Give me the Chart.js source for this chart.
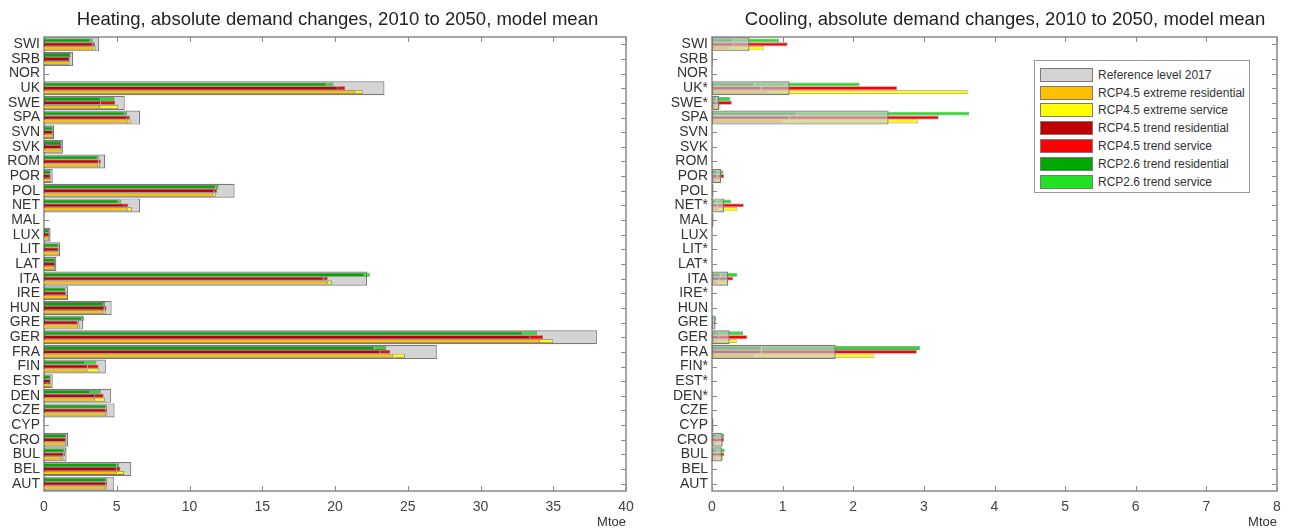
<!DOCTYPE html>
<html>
<head>
<meta charset="utf-8">
<script src="https://cdn.jsdelivr.net/npm/chart.js@4/dist/chart.umd.min.js"></script>
<style>
html, body { margin: 0; padding: 0; background: #fff; overflow: hidden; width: 1294px; height: 531px; }
#heat { position: absolute; left: 0; top: 0; }
#cool { position: absolute; left: 647px; top: 0; }
.title { position: absolute; top: 8px; height: 22px; line-height: 22px; text-align: center; white-space: nowrap;
  font: 18.5px "Liberation Sans", Arial, sans-serif; color: #222; }
#legend { position: absolute; left: 1034px; top: 60px; width: 216px; height: 133px; box-sizing: border-box;
  border: 1px solid #9a9a9a; background: #fff; padding: 5px 0 0 5px;
  font: 12px "Liberation Sans", Arial, sans-serif; color: #333; }
#legend .row { display: flex; align-items: center; height: 17.8px; white-space: nowrap; }
#legend .sw { width: 53px; height: 14px; box-sizing: border-box; border: 1px solid #7a7a7a; margin-right: 5px; }
</style>
</head>
<body>
<canvas id="heat" width="647" height="531"></canvas>
<canvas id="cool" width="647" height="531"></canvas>
<div class="title" style="left:44px;width:587px">Heating, absolute demand changes, 2010 to 2050, model mean</div>
<div class="title" style="left:712px;width:586px">Cooling, absolute demand changes, 2010 to 2050, model mean</div>
<div id="legend"></div>
<script>
const FONT = "'Liberation Sans', Arial, sans-serif";

let heatLabels = ['SWI','SRB','NOR','UK','SWE','SPA','SVN','SVK','ROM','POR','POL','NET','MAL','LUX','LIT','LAT',
  'ITA','IRE','HUN','GRE','GER','FRA','FIN','EST','DEN','CZE','CYP','CRO','BUL','BEL','AUT'];
let coolLabels = ['SWI','SRB','NOR','UK*','SWE*','SPA','SVN','SVK','ROM','POR','POL','NET*','MAL','LUX','LIT*','LAT*',
  'ITA','IRE*','HUN','GRE','GER','FRA','FIN*','EST*','DEN*','CZE','CYP','CRO','BUL','BEL','AUT'];

let seriesNames = ['Reference level 2017', 'RCP4.5 extreme residential', 'RCP4.5 extreme service',
  'RCP4.5 trend residential', 'RCP4.5 trend service', 'RCP2.6 trend residential', 'RCP2.6 trend service'];
let seriesColors = ['#d4d4d4', '#ffc000', '#ffff00', '#c00000', '#ff0000', '#00a800', '#22e022'];

// heating, Mtoe
let heatRef      = [3.8, 2.0, 0, 23.4, 5.55, 6.6, 0.7, 1.3, 4.2, 0.6, 13.1, 6.6, 0.02, 0.45, 1.1, 0.85,
  22.2, 1.65, 4.65, 2.7, 38.0, 27.0, 4.25, 0.6, 4.6, 4.85, 0.02, 1.65, 1.55, 6.0, 4.8];
let heatExtRes   = [3.4, 1.75, 0, 21.4, 3.85, 5.8, 0.6, 1.2, 3.7, 0.45, 11.6, 5.75, 0, 0.35, 1.0, 0.75,
  19.5, 1.6, 4.1, 2.35, 34.1, 24.0, 3.0, 0.45, 3.5, 4.25, 0, 1.5, 1.25, 5.0, 4.25];
let heatExtSer   = [0.15, 0.05, 0, 0.5, 1.25, 0.2, 0.05, 0.05, 0.15, 0.05, 0.2, 0.3, 0, 0.05, 0.05, 0.05,
  0.3, 0.05, 0.15, 0.1, 0.9, 0.8, 0.8, 0.05, 0.7, 0.1, 0, 0.05, 0.1, 0.5, 0.1];
let heatTrendRes = [3.35, 1.75, 0, 20.2, 3.9, 5.7, 0.6, 1.2, 3.75, 0.45, 11.7, 5.5, 0, 0.35, 1.0, 0.75,
  19.2, 1.5, 4.15, 2.3, 33.4, 23.1, 3.0, 0.45, 3.5, 4.25, 0, 1.5, 1.35, 5.0, 4.25];
let heatTrendSer = [0.15, 0.05, 0, 0.5, 1.0, 0.2, 0.05, 0.05, 0.15, 0.05, 0.2, 0.3, 0, 0.05, 0.05, 0.05,
  0.3, 0.05, 0.15, 0.1, 0.9, 0.7, 0.75, 0.05, 0.6, 0.1, 0, 0.05, 0.1, 0.25, 0.1];
let heat26Res    = [3.2, 1.8, 0, 19.4, 3.85, 5.5, 0.6, 1.2, 3.65, 0.45, 11.8, 5.1, 0, 0.35, 1.0, 0.75,
  22.0, 1.45, 4.05, 2.6, 32.9, 22.7, 2.8, 0.45, 3.15, 4.25, 0, 1.5, 1.4, 5.0, 4.25];
let heat26Ser    = [0.15, 0.05, 0, 0.5, 1.0, 0.2, 0.05, 0.05, 0.15, 0.05, 0.2, 0.2, 0, 0.05, 0.05, 0.05,
  0.4, 0.05, 0.15, 0.15, 1.0, 0.8, 0.8, 0.05, 0.75, 0.1, 0, 0.05, 0.1, 0.15, 0.1];

// cooling, Mtoe
let coolRef      = [0.53, 0.01, 0, 1.1, 0.1, 2.5, 0, 0, 0, 0.13, 0.02, 0.17, 0.02, 0, 0, 0,
  0.23, 0, 0, 0.05, 0.25, 1.75, 0, 0, 0, 0, 0.02, 0.15, 0.14, 0, 0];
let coolExtRes   = [0.25, 0, 0, 0.8, 0.04, 1.0, 0, 0, 0, 0.06, 0.01, 0.07, 0, 0, 0, 0,
  0.08, 0, 0, 0.02, 0.08, 0.6, 0, 0, 0, 0, 0.01, 0.06, 0.06, 0, 0];
let coolExtSer   = [0.49, 0.01, 0, 2.83, 0.08, 1.92, 0, 0, 0, 0.07, 0.01, 0.29, 0.02, 0, 0, 0,
  0.15, 0, 0, 0.02, 0.27, 1.7, 0, 0, 0, 0, 0.01, 0.09, 0.1, 0, 0];
let coolTrendRes = [0.3, 0, 0, 0.7, 0.06, 1.1, 0, 0, 0, 0.08, 0.01, 0.08, 0, 0, 0, 0,
  0.1, 0, 0, 0.02, 0.1, 0.7, 0, 0, 0, 0, 0.01, 0.07, 0.07, 0, 0];
let coolTrendSer = [0.77, 0.01, 0, 1.92, 0.22, 2.11, 0, 0, 0, 0.09, 0.01, 0.37, 0.02, 0, 0, 0,
  0.2, 0, 0, 0.03, 0.4, 2.2, 0, 0, 0, 0, 0.01, 0.1, 0.1, 0, 0];
let cool26Res    = [0.3, 0, 0, 0.6, 0.06, 1.2, 0, 0, 0, 0.08, 0.01, 0.06, 0, 0, 0, 0,
  0.12, 0, 0, 0.02, 0.1, 0.7, 0, 0, 0, 0, 0.01, 0.07, 0.07, 0, 0];
let cool26Ser    = [0.65, 0.01, 0, 1.49, 0.2, 2.44, 0, 0, 0, 0.08, 0.01, 0.21, 0.02, 0, 0, 0,
  0.24, 0, 0, 0.04, 0.34, 2.25, 0, 0, 0, 0, 0.01, 0.1, 0.11, 0, 0];

// inward ticks and the grey axes box, drawn under the bars (like matlab)
const axesBox = {
    id: 'axesBox',
    beforeDatasetsDraw(chart) {
        const ctx = chart.ctx, a = chart.chartArea;
        const x = chart.scales.x, y = chart.scales.y;
        ctx.save();
        ctx.strokeStyle = '#8a8a8a';
        ctx.lineWidth = 1;
        ctx.beginPath();
        x.ticks.forEach((t, i) => {
            const p = Math.round(x.getPixelForTick(i)) + 0.5;
            ctx.moveTo(p, a.bottom); ctx.lineTo(p, a.bottom - 5);
            ctx.moveTo(p, a.top); ctx.lineTo(p, a.top + 5);
        });
        y.ticks.forEach((t, i) => {
            const p = Math.round(y.getPixelForTick(i)) + 0.5;
            ctx.moveTo(a.left, p); ctx.lineTo(a.left + 5, p);
            ctx.moveTo(a.right, p); ctx.lineTo(a.right - 5, p);
        });
        ctx.stroke();
        ctx.lineWidth = 1.5;
        ctx.strokeRect(a.left, a.top, a.right - a.left, a.bottom - a.top);
        ctx.restore();
    }
};

function part(i, data, stack) {
    return {
        label: seriesNames[i],
        data: data,
        stack: stack,
        backgroundColor: seriesColors[i],
        borderColor: 'rgba(0,0,0,0.45)',
        borderWidth: 0.8,
        categoryPercentage: 0.8,
        barPercentage: 1,
        order: 0
    };
}

function buildDatasets(ref, extRes, extSer, trendRes, trendSer, r26Res, r26Ser, refOnTop) {
    return [
        {
            label: seriesNames[0],
            data: ref,
            stack: 'ref',
            grouped: false,
            backgroundColor: refOnTop ? 'rgba(205,205,205,0.6)' : seriesColors[0],
            borderColor: '#7a7a7a',
            borderWidth: 1.2,
            borderSkipped: false,
            categoryPercentage: 1,
            barPercentage: 0.96,
            order: refOnTop ? -1 : 1
        },
        part(5, r26Res, 'rcp26'), part(6, r26Ser, 'rcp26'),
        part(3, trendRes, 'trend45'), part(4, trendSer, 'trend45'),
        part(1, extRes, 'ext45'), part(2, extSer, 'ext45')
    ];
}

function makeChart(id, labels, datasets, xMax, xStep, yWidth, padRight) {
    return new Chart(document.getElementById(id), {
        type: 'bar',
        data: { labels: labels, datasets: datasets },
        options: {
            indexAxis: 'y',
            responsive: false,
            animation: false,
            devicePixelRatio: 1,
            layout: { padding: { left: 0, right: padRight, top: 37, bottom: 0 } },
            plugins: {
                legend: { display: false },
                tooltip: { enabled: false }
            },
            scales: {
                x: {
                    stacked: true,
                    min: 0,
                    max: xMax,
                    grid: { display: false, drawTicks: false },
                    border: { display: false },
                    ticks: { stepSize: xStep, color: '#444', font: { family: FONT, size: 14 }, padding: 8 },
                    title: {
                        display: true, text: 'Mtoe', align: 'end', color: '#333',
                        font: { family: FONT, size: 13 }, padding: { top: 0, bottom: 1 }
                    },
                    afterFit: s => { s.height = 40; }
                },
                y: {
                    grid: { display: false, drawTicks: false },
                    border: { display: false },
                    ticks: { autoSkip: false, color: '#333', font: { family: FONT, size: 14 }, padding: 4 },
                    afterFit: s => { s.width = yWidth; }
                }
            }
        },
        plugins: [axesBox]
    });
}

makeChart('heat', heatLabels,
    buildDatasets(heatRef, heatExtRes, heatExtSer, heatTrendRes, heatTrendSer, heat26Res, heat26Ser, false),
    40, 5, 44, 21);

makeChart('cool', coolLabels,
    buildDatasets(coolRef, coolExtRes, coolExtSer, coolTrendRes, coolTrendSer, cool26Res, cool26Ser, true),
    8, 1, 65, 17);

// legend box inside the cooling axes
let legendBox = document.getElementById('legend');
seriesNames.forEach((name, i) => {
    let row = document.createElement('div');
    row.className = 'row';
    let sw = document.createElement('span');
    sw.className = 'sw';
    sw.style.background = seriesColors[i];
    let txt = document.createElement('span');
    txt.textContent = name;
    row.appendChild(sw);
    row.appendChild(txt);
    legendBox.appendChild(row);
});
</script>
</body>
</html>
